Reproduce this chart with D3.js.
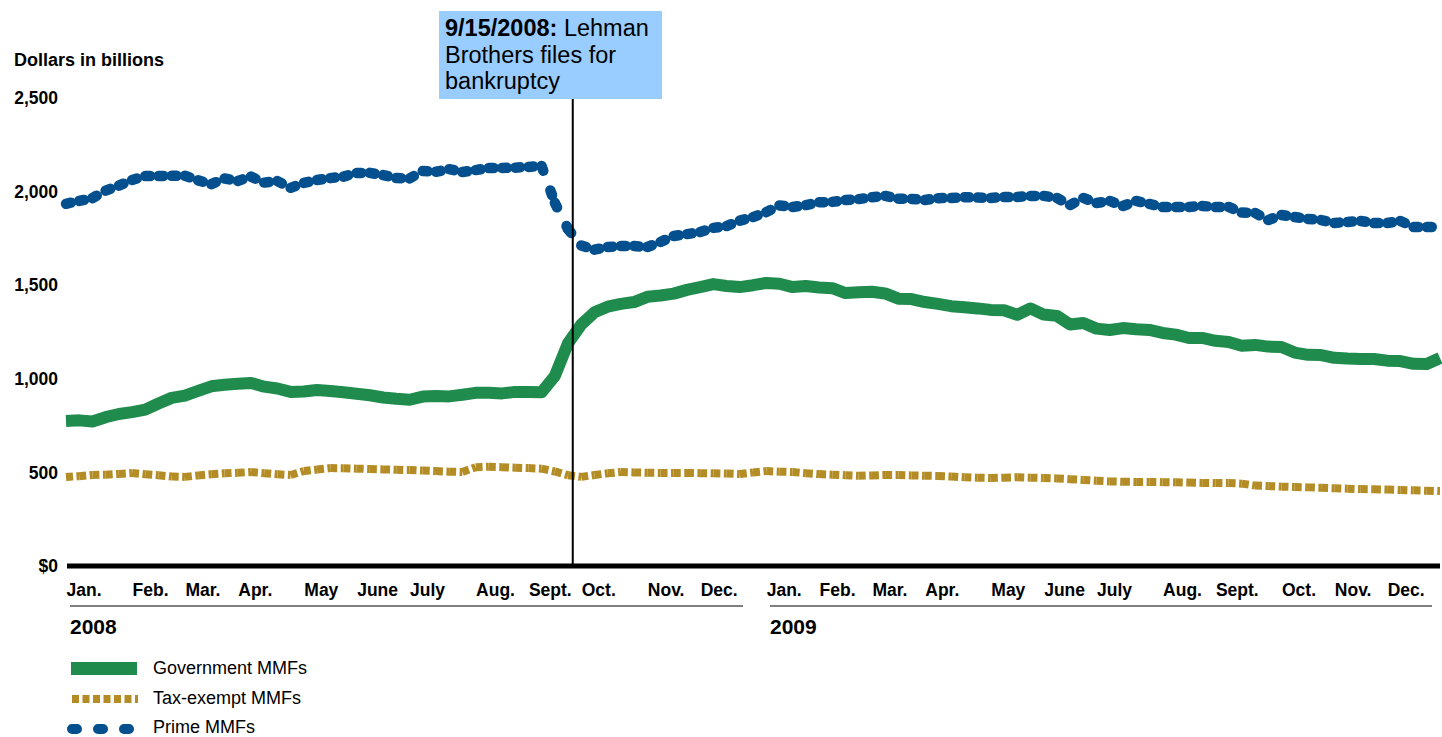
<!DOCTYPE html>
<html>
<head>
<meta charset="utf-8">
<script src="https://cdn.jsdelivr.net/npm/d3@7"></script>
<style>
  body { margin: 0; background: #fff; }
  svg { font-family: "Liberation Sans", Arial, sans-serif; }
</style>
</head>
<body>
<div id="chart"></div>
<script>
// weekly observations, Wednesdays from Jan. 2, 2008 to Dec. 30, 2009
const dates = d3.range(105).map((i) => d3.timeDay.offset(new Date(2008, 0, 2), 7 * i));

const government = [
    775, 778, 772, 795, 812, 822, 835, 868, 898, 910, 935, 960, 968, 973, 978, 958,
    948, 930, 932, 940, 935, 928, 920, 912, 900, 893, 888, 905, 908, 906, 915, 925,
    926, 922, 930, 930, 928, 1015, 1190, 1290, 1355, 1385, 1400, 1410, 1438, 1445, 1455, 1475,
    1490, 1506, 1496, 1490, 1500, 1512, 1508, 1490, 1496, 1488, 1484, 1458, 1462, 1465, 1456, 1428,
    1426, 1410, 1400, 1388, 1382, 1376, 1368, 1366, 1342, 1376, 1343, 1336, 1290, 1298, 1268, 1261,
    1271, 1265, 1261, 1245, 1236, 1218, 1218, 1203, 1197, 1176, 1181, 1172, 1170, 1140, 1128, 1127,
    1112, 1108, 1106, 1106, 1097, 1095, 1080, 1079, 1111
];
const taxExempt = [
    475, 480, 486, 488, 492, 497, 490, 485, 478, 476, 484, 490, 495, 498, 502, 496,
    490, 486, 507, 515, 523, 522, 520, 518, 516, 514, 513, 510, 507, 504, 502, 528,
    530, 528, 525, 523, 520, 505, 485, 476, 486, 495, 502, 500, 498, 497, 497, 497,
    496, 495, 494, 491, 500, 507, 504, 502, 496, 491, 488, 485, 482, 484, 486, 486,
    484, 482, 481, 478, 474, 472, 470, 472, 474, 472, 470, 468, 464, 460, 456, 452,
    450, 449, 449, 448, 447, 446, 444, 443, 443, 440, 430, 427, 424, 422, 420, 418,
    415, 413, 411, 410, 408, 406, 404, 402, 400
];
const prime = [
    1935, 1950, 1965, 2005, 2032, 2062, 2083, 2083, 2085, 2085, 2060, 2040, 2070, 2057, 2080, 2048,
    2056, 2020, 2046, 2062, 2072, 2080, 2100, 2100, 2088, 2072, 2070, 2110, 2106, 2120, 2105, 2115,
    2126, 2126, 2128, 2132, 2137, 1940, 1800, 1712, 1690, 1704, 1709, 1709, 1704, 1731, 1763, 1773,
    1784, 1806, 1816, 1845, 1864, 1890, 1926, 1918, 1928, 1943, 1945, 1955, 1960, 1970, 1977, 1962,
    1961, 1955, 1965, 1966, 1970, 1968, 1966, 1971, 1971, 1977, 1977, 1966, 1928, 1966, 1939, 1950,
    1923, 1950, 1934, 1918, 1918, 1918, 1923, 1918, 1918, 1888, 1886, 1848, 1875, 1864, 1854, 1848,
    1832, 1838, 1843, 1832, 1832, 1843, 1811, 1811, 1811
];

const yTicks = [0, 500, 1000, 1500, 2000, 2500];
const monthLabels = ["Jan.", "Feb.", "Mar.", "Apr.", "May", "June", "July", "Aug.", "Sept.", "Oct.", "Nov.", "Dec."];
const years = ["2008", "2009"];
const seriesNames = ["Government MMFs", "Tax-exempt MMFs", "Prime MMFs"];
// the marker sits just after the 9/15 week in the original graphic
const markerDate = new Date(2008, 8, 26, 12);

const green = "#1f8c4d";
const gold = "#b38c25";
const blue = "#04508f";

const width = 1442, height = 737;
const svg = d3.select("#chart").append("svg")
    .attr("width", width).attr("height", height);

const x = d3.scaleTime().domain([dates[0], dates[dates.length - 1]]).range([66, 1440]);
const y = d3.scaleLinear().domain([0, 2500]).range([566, 98]);

const line = d3.line().x((d) => x(d[0])).y((d) => y(d[1]));

// y axis labels
svg.append("text")
    .attr("x", 14).attr("y", 66)
    .attr("font-size", 18).attr("font-weight", "bold")
    .text("Dollars in billions");

const yAxis = svg.append("g")
    .attr("transform", "translate(58,0)")
    .call(d3.axisLeft(y).tickValues(yTicks).tickSize(0).tickPadding(0)
        .tickFormat((d) => d === 0 ? "$0" : d3.format(",")(d)));
yAxis.select(".domain").remove();
yAxis.selectAll("text")
    .attr("font-size", 17.5).attr("font-weight", "bold")
    .attr("font-family", "Liberation Sans, Arial, sans-serif")
    .attr("fill", "#000");

// series (dashed ones restart their pattern on every segment, as in the original)
const pts = (vals) => dates.map((d, i) => [d, vals[i]]);

svg.append("g").selectAll("path")
    .data(d3.pairs(pts(taxExempt)))
    .join("path")
    .attr("d", (d) => line(d))
    .attr("fill", "none").attr("stroke", gold)
    .attr("stroke-width", 8).attr("stroke-dasharray", "7,3.5");

svg.append("path")
    .datum(pts(government))
    .attr("d", line)
    .attr("fill", "none").attr("stroke", green)
    .attr("stroke-width", 12).attr("stroke-linejoin", "round");

svg.append("g").selectAll("path")
    .data(d3.pairs(pts(prime)))
    .join("path")
    .attr("d", (d) => line(d))
    .attr("fill", "none").attr("stroke", blue)
    .attr("stroke-width", 10.5).attr("stroke-linecap", "round")
    .attr("stroke-dasharray", "5,21");

// x axis
const xAxis = svg.append("g")
    .attr("transform", "translate(0,566)")
    .call(d3.axisBottom(x)
        .tickValues(dates.filter((d) => d.getDate() <= 7))
        .tickSize(0).tickPadding(0)
        .tickFormat((d) => monthLabels[d.getMonth()]));
xAxis.select(".domain").remove();
xAxis.selectAll("text")
    .attr("text-anchor", "start").attr("dy", 0).attr("y", 30)
    .attr("font-size", 17.5).attr("font-weight", "bold")
    .attr("font-family", "Liberation Sans, Arial, sans-serif")
    .attr("fill", "#000");

svg.append("line")
    .attr("x1", 67).attr("x2", 1440)
    .attr("y1", y(0)).attr("y2", y(0))
    .attr("stroke", "#000").attr("stroke-width", 5);

// year labels
const yearSpans = [[70, 743], [770, 1432]];
years.forEach((yr, i) => {
    svg.append("line")
        .attr("x1", yearSpans[i][0]).attr("x2", yearSpans[i][1])
        .attr("y1", 606).attr("y2", 606)
        .attr("stroke", "#555").attr("stroke-width", 1.5);
    svg.append("text")
        .attr("x", yearSpans[i][0]).attr("y", 634)
        .attr("font-size", 21).attr("font-weight", "bold")
        .text(yr);
});

// Lehman marker
const mx = x(markerDate);
svg.append("line")
    .attr("x1", mx).attr("x2", mx)
    .attr("y1", 99).attr("y2", y(0))
    .attr("stroke", "#000").attr("stroke-width", 2);

svg.append("rect")
    .attr("x", 439).attr("y", 11).attr("width", 223).attr("height", 88)
    .attr("fill", "#99ccff");
const note = svg.append("text").attr("font-size", 23.5).attr("fill", "#000");
const l1 = note.append("tspan").attr("x", 445).attr("y", 36);
l1.append("tspan").attr("font-weight", "bold").text("9/15/2008:");
l1.append("tspan").text(" Lehman");
note.append("tspan").attr("x", 445).attr("y", 63).text("Brothers files for");
note.append("tspan").attr("x", 445).attr("y", 89).text("bankruptcy");

// legend
const legend = svg.append("g");
legend.append("rect")
    .attr("x", 71).attr("y", 662).attr("width", 66).attr("height", 13)
    .attr("fill", green);
legend.append("line")
    .attr("x1", 72).attr("x2", 138).attr("y1", 699).attr("y2", 699)
    .attr("stroke", gold).attr("stroke-width", 8).attr("stroke-dasharray", "7,3.5");
legend.append("line")
    .attr("x1", 72).attr("x2", 138).attr("y1", 729).attr("y2", 729)
    .attr("stroke", blue).attr("stroke-width", 10)
    .attr("stroke-linecap", "round").attr("stroke-dasharray", "5,21");
legend.selectAll("text")
    .data(seriesNames)
    .join("text")
    .attr("x", 153)
    .attr("y", (d, i) => [668, 698, 727][i])
    .attr("dy", "0.35em")
    .attr("font-size", 18)
    .text((d) => d);
</script>
</body>
</html>
